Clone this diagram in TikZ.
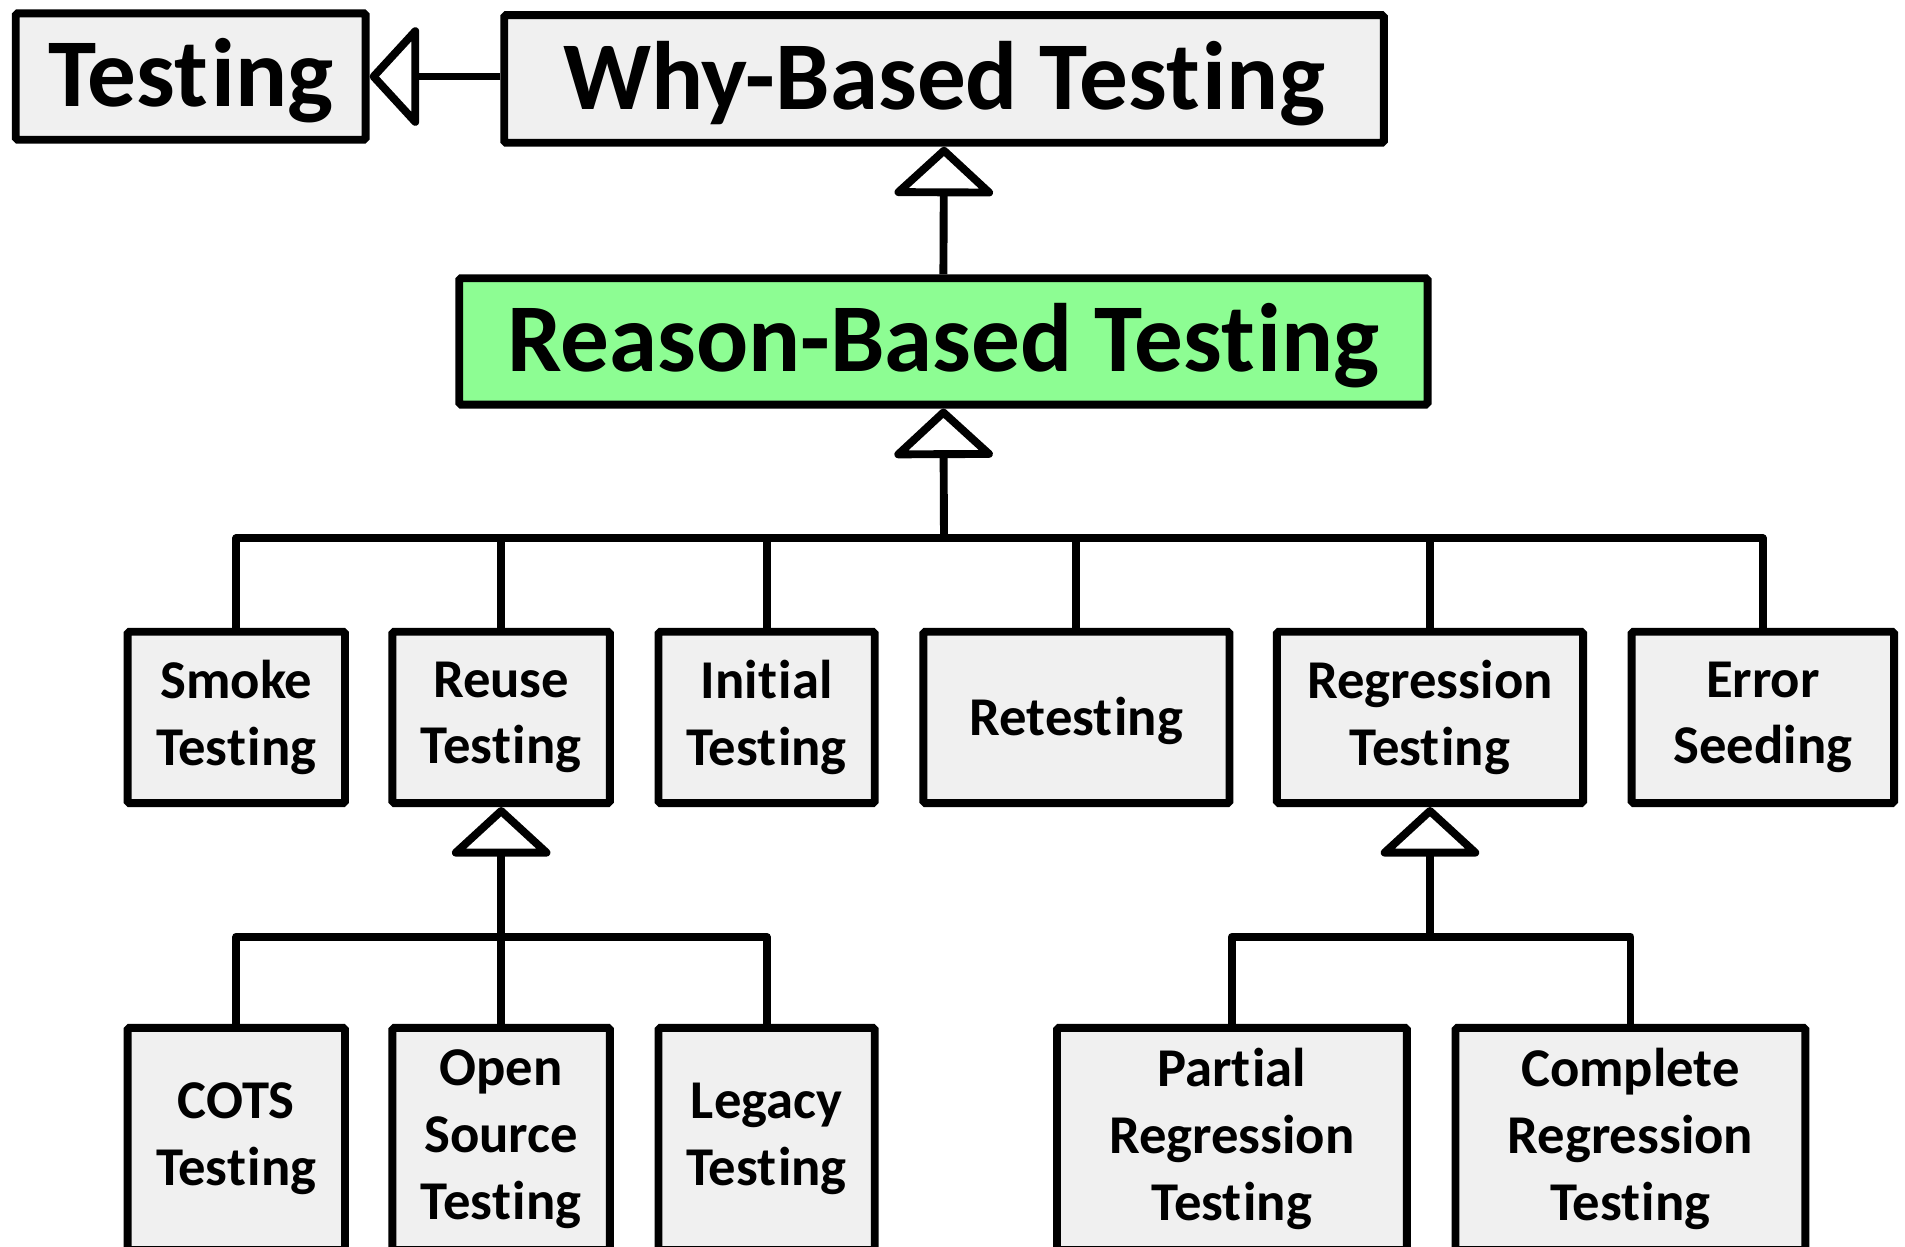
\documentclass[tikz,border=0pt]{standalone}
\usepackage{fontspec}
\setmainfont{Carlito}
\usetikzlibrary{arrows.meta}
\definecolor{boxgray}{RGB}{240,240,240}
\definecolor{rbgreen}{RGB}{141,253,147}
\newcommand{\nolig}{\kern0.03em }
\begin{document}
\begin{tikzpicture}[x=1pt,y=-1pt,
  nbox/.style={draw=black, line width=6.5pt, fill=boxgray, rounded corners=1.5pt, inner sep=0pt, align=center,
               font=\fontsize{45}{55}\selectfont\bfseries, execute at begin node={\rule{0pt}{38pt}}},
  bigbox/.style={nbox, font=\fontsize{80}{96}\selectfont\bfseries, execute at begin node={\rule{0pt}{63pt}}},
  conn/.style={line width=6.5pt, line join=round},
  gen/.style={conn, -{Triangle[open, length=42pt, width=90pt, line join=round]}},
]
\useasboundingbox (0,0) rectangle (1568,1026);
% top row
\node[bigbox, minimum width=288pt, minimum height=104pt] (testing) at (157,63) {Test\nolig ing};
\node[bigbox, minimum width=724pt, minimum height=105pt] (why) at (777,65) {Why-Based Test\nolig ing};
\node[bigbox, fill=rbgreen, minimum width=797pt, minimum height=104pt] (reason) at (776.5,281) {Reason-Based Test\nolig ing};
% children
\node[nbox, minimum width=179pt, minimum height=141pt] (smoke) at (194.5,590.5) {Smoke\\Test\nolig ing};
\node[nbox, minimum width=179pt, minimum height=141pt] (reuse) at (412.5,590.5) {Reuse\\Test\nolig ing};
\node[nbox, minimum width=178pt, minimum height=141pt] (initial) at (631,590.5) {Init\nolig ial\\Test\nolig ing};
\node[nbox, minimum width=252pt, minimum height=141pt] (retest) at (886,590.5) {Retest\nolig ing};
\node[nbox, minimum width=252pt, minimum height=141pt] (regr) at (1177,590.5) {Regression\\Test\nolig ing};
\node[nbox, minimum width=216pt, minimum height=141pt] (error) at (1451,590.5) {Error\\Seeding};
% grandchildren
\node[nbox, minimum width=179pt, minimum height=183pt] (cots) at (194.5,937.5) {COTS\\Test\nolig ing};
\node[nbox, minimum width=179pt, minimum height=183pt] (open) at (412.5,937.5) {Open\\Source\\Test\nolig ing};
\node[nbox, minimum width=178pt, minimum height=183pt] (legacy) at (631,937.5) {Legacy\\Test\nolig ing};
\node[nbox, minimum width=288pt, minimum height=183pt] (partial) at (1014,937.5) {Part\nolig ial\\Regression\\Test\nolig ing};
\node[nbox, minimum width=288pt, minimum height=183pt] (complete) at (1342,937.5) {Complete\\Regression\\Test\nolig ing};
% connectors
\draw[gen] (testing.east -| why.west) -- (testing.east);
\draw[gen] (reason.north) -- (why.south);
\coordinate (bus) at (777,443);
\draw[gen] (bus) -- (reason.south);
\draw[conn] (smoke.north) |- (bus);
\draw[conn] (reuse.north) |- (bus);
\draw[conn] (initial.north) |- (bus);
\draw[conn] (retest.north) |- (bus);
\draw[conn] (regr.north) |- (bus);
\draw[conn] (error.north) |- (bus);
\coordinate (rbus) at (412.5,771);
\draw[gen] (rbus) -- (reuse.south);
\draw[conn] (cots.north) |- (rbus);
\draw[conn] (open.north) -- (rbus);
\draw[conn] (legacy.north) |- (rbus);
\coordinate (gbus) at (1177,771);
\draw[gen] (gbus) -- (regr.south);
\draw[conn] (partial.north) |- (gbus);
\draw[conn] (complete.north) |- (gbus);
\end{tikzpicture}
\end{document}
